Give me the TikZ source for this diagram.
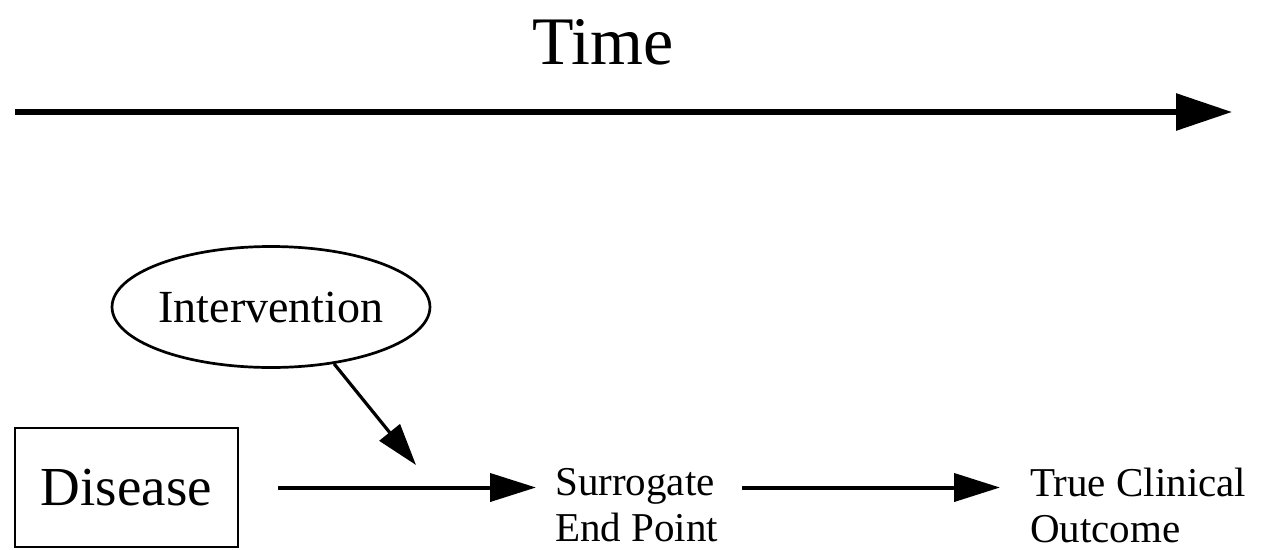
\documentclass[tikz,border=0pt]{standalone}
\usepackage{fontspec}
\setmainfont{Liberation Serif}
\usetikzlibrary{arrows.meta,shapes.geometric}
\begin{document}
\begin{tikzpicture}[x=1pt,y=-1pt,
  bigarr/.style={line width=6pt,-{Triangle[length=56pt,width=36pt]}},
  arr/.style={line width=4pt,-{Triangle[length=46pt,width=28pt]}},
  iarr/.style={line width=3.2pt,-{Triangle[length=42pt,width=26pt]}},
  lbl/.style={inner sep=0pt,align=left,anchor=west,font=\fontsize{41}{46}\selectfont}]
\useasboundingbox (0,0) rectangle (1261,549);
\node[inner sep=0pt,font=\fontsize{68}{70}\selectfont] (time) at (603,42) {Time};
\coordinate (tstart) at (15,112);
\coordinate (tend) at (1232,112);
\draw[bigarr] (tstart) -- (tend);
\node[draw,line width=2.7pt,minimum width=223pt,minimum height=119pt,inner sep=0pt,
  font=\fontsize{55}{60}\selectfont] (dis) at (126.5,487.5) {Disease};
\node[draw,ellipse,line width=2.7pt,minimum width=302pt,minimum height=121pt,inner sep=0pt,
  font=\fontsize{46}{50}\selectfont] (int) at (271,307) {Intervention};
\node[lbl] (sur) at (555,505) {Surrogate\\End Point};
\node[lbl] (tru) at (1030,505) {True Clinical\\Outcome};
\coordinate (itip) at (416,465);
\draw[iarr] (int.-42) -- (itip);
\draw[arr] ([xshift=39pt]dis.east) -- ([xshift=-19pt]sur.west |- dis.east);
\draw[arr] ([xshift=24pt]sur.east |- dis.east) -- ([xshift=-30pt]tru.west |- dis.east);
\end{tikzpicture}
\end{document}
